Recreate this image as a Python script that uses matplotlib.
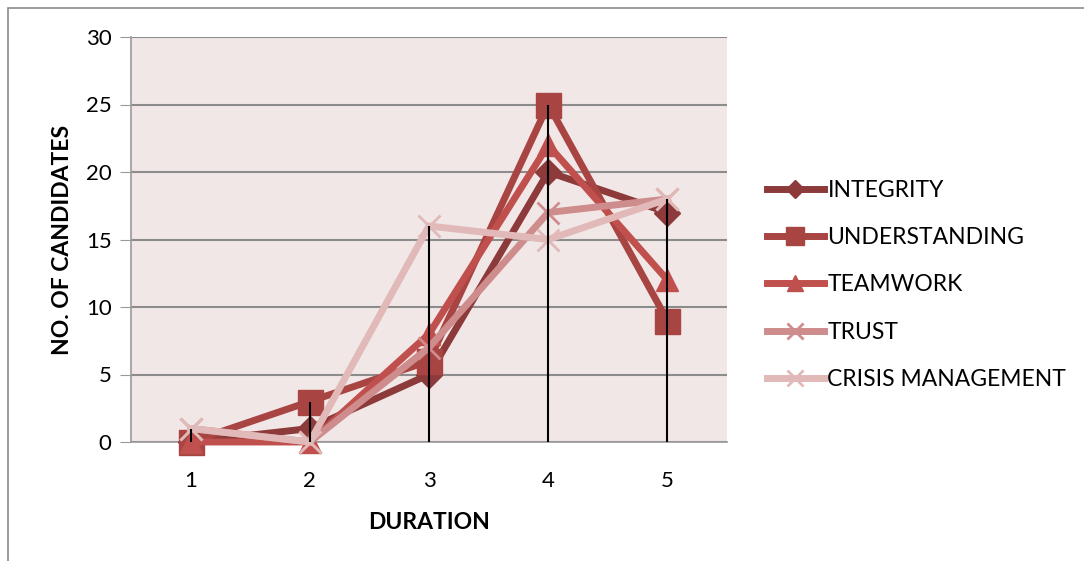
import numpy as np
import matplotlib
matplotlib.use("Agg")
from matplotlib import pyplot as plt
from matplotlib.patches import Rectangle

plt.rcParams['font.family'] = ['Lato', 'DejaVu Sans']

durations = [1, 2, 3, 4, 5]
integrity = [0, 1, 5, 20, 17]
understanding = [0, 3, 6, 25, 9]
teamwork = [0, 0, 8, 22, 12]
trust = [1, 0, 7, 17, 18]
crisis = [1, 0, 16, 15, 18]

names = ['INTEGRITY', 'UNDERSTANDING', 'TEAMWORK', 'TRUST', 'CRISIS MANAGEMENT']
series = [integrity, understanding, teamwork, trust, crisis]
colors = ['#8C3A3A', '#A84543', '#C0504D', '#CE8C8C', '#E1B9B8']
markers = ['D', 's', '^', 'x', 'x']
msizes = [13, 18, 16, 16, 16]

fig = plt.figure(figsize=(10.84, 5.61), dpi=100)
# outer chart frame (only top/left visible in reference)
fig.patches.append(Rectangle((8 / 1084, -0.1), 1.2, (561 - 8) / 561 + 0.1,
                             transform=fig.transFigure, fill=False,
                             edgecolor='#8a8a8a', linewidth=1.2))

ax = fig.add_axes([131 / 1084, 1 - 442 / 561, 596 / 1084, 405 / 561])
ax.set_facecolor('#F2E7E7')

for vals, name, c, m, ms in zip(series, names, colors, markers, msizes):
    mew = 2 if m == 'x' else 1
    ax.plot(durations, vals, color=c, linewidth=5, marker=m, markersize=ms,
            markeredgewidth=mew, markeredgecolor=c, label=name,
            solid_joinstyle='miter', clip_on=False, zorder=3)

# high-low lines, drawn from the axis up to the highest value
highs = np.max(np.array(series), axis=0)
ax.vlines(durations, 0, highs, color='black', linewidth=1.5, zorder=5)

ax.set_xlim(0.5, 5.5)
ax.set_ylim(0, 30)
ax.set_xticks(durations)
ax.set_yticks(range(0, 31, 5))
ax.yaxis.grid(True, color='#8c8c8c', linewidth=1.5)
ax.set_axisbelow(True)
for s in ['top', 'right']:
    ax.spines[s].set_visible(False)
ax.spines['left'].set_color('#9a9a9a')
ax.spines['bottom'].set_color('#9a9a9a')
ax.spines['left'].set_linewidth(1.2)
ax.spines['bottom'].set_linewidth(1.2)
ax.tick_params(axis='y', length=8, color='#9a9a9a', labelsize=16, pad=6)
ax.tick_params(axis='x', length=0, labelsize=16, pad=21)

ax.set_xlabel('DURATION', fontsize=16.5, fontweight='bold', labelpad=15)
ax.set_ylabel('NO. OF CANDIDATES', fontsize=16.5, fontweight='bold', labelpad=9)

leg = ax.legend(loc='center left', bbox_to_anchor=(1.032, 0.388), frameon=False,
                fontsize=16.5, labelspacing=1.15, handlelength=2.5,
                handletextpad=0.15, markerscale=0.7)

fig.savefig('out.png', dpi=100)
